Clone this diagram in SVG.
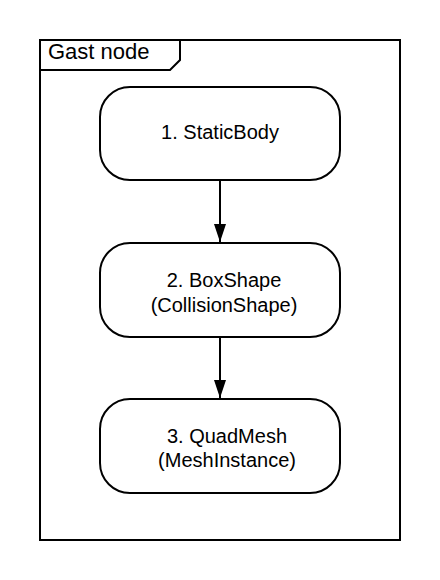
<svg xmlns="http://www.w3.org/2000/svg" width="440" height="580" viewBox="0 0 440 580">
<defs>
<style>
.frame{fill:none;stroke:#000;stroke-width:2}
.node{fill:#fff;stroke:#000;stroke-width:2}
.lbl{font-family:"Liberation Sans",Arial,sans-serif;font-size:20px;fill:#000;text-anchor:middle}
.title{font-family:"Liberation Sans",Arial,sans-serif;font-size:22px;fill:#000}
.edge{stroke:#000;stroke-width:2;fill:none}
</style>
<marker id="arrow" viewBox="0 0 18 12" refX="18" refY="6" markerWidth="18" markerHeight="12" markerUnits="userSpaceOnUse" orient="auto">
<path d="M0,0 L18,6 L0,12 z" fill="#000"/>
</marker>
</defs>
<rect width="440" height="580" fill="#fff"/>
<g id="frame">
<rect class="frame" x="40" y="40" width="360" height="500"/>
<path class="frame" d="M40,70 L170,70 L180,60 L180,40"/>
<text class="title" x="48" y="59">Gast node</text>
</g>
<g id="connectors">
<path class="edge" d="M220,181 V242" marker-end="url(#arrow)"/>
<path class="edge" d="M220,338 V398" marker-end="url(#arrow)"/>
</g>
<g id="node1">
<rect class="node" x="100" y="87" width="240" height="93" rx="30" ry="30"/>
<text class="lbl" x="220" y="139">1. StaticBody</text>
</g>
<g id="node2">
<rect class="node" x="100" y="243" width="240" height="94" rx="30" ry="30"/>
<text class="lbl" x="224" y="287">2. BoxShape</text>
<text class="lbl" x="224" y="312">(CollisionShape)</text>
</g>
<g id="node3">
<rect class="node" x="100" y="399" width="240" height="94" rx="30" ry="30"/>
<text class="lbl" x="227" y="443">3. QuadMesh</text>
<text class="lbl" x="227" y="467">(MeshInstance)</text>
</g>
</svg>
